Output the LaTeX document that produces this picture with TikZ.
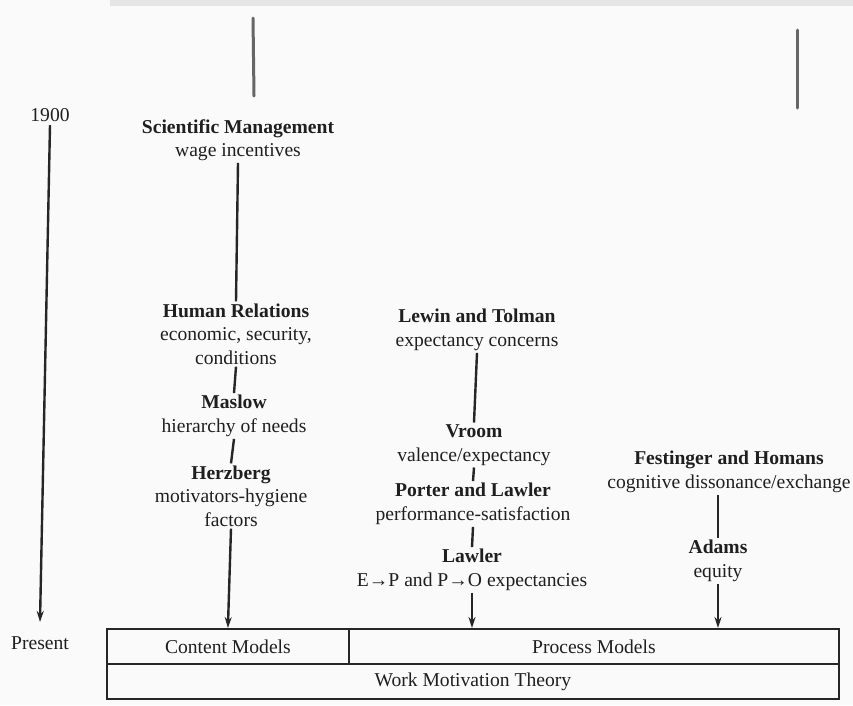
\documentclass[tikz,border=0pt]{standalone}
\usepackage{fontspec}
\setmainfont{Liberation Serif}
\usetikzlibrary{arrows.meta}
\begin{document}
\begin{tikzpicture}[x=1pt,y=-1pt,
  every node/.style={font=\fontsize{19.6}{23.5}\selectfont, text=black!88},
  entry/.style={align=center, inner sep=2pt},
  link/.style={line width=2.4pt, draw=black!85},
  feed/.style={link, -{Stealth[length=11pt,width=7pt]}},
  cell/.style={draw=black!85, line width=1.8pt, minimum height=35pt, inner sep=0pt, anchor=north west},
  scanmark/.style={line width=3pt, draw=black!60, line cap=round}
]
% page
\fill[black!2] (0,0) rectangle (853,705);
\useasboundingbox (0,0) rectangle (853,705);
\fill[black!10] (110,0) rectangle (853,6);
\draw[scanmark] (253,18) -- (254,96);
\draw[scanmark] (797,30) -- (797,108);

% time axis
\node (start) at (50,115) {1900};
\node (now) at (40,643) {Present};
\coordinate (nowtip) at (40,622);
\draw[feed] (start.south) -- (nowtip);

% content theories
\node[entry] (sm) at (238,140) {\textbf{Scientific Management}\\wage incentives};
\node[entry] (hr) at (236,334) {\textbf{Human Relations}\\economic, security,\\conditions};
\node[entry] (maslow) at (234,416) {\textbf{Maslow}\\hierarchy of needs};
\node[entry] (herz) at (231,496) {\textbf{Herzberg}\\motivators-hygiene\\factors};

% process theories
\node[entry] (lewin) at (477,330) {\textbf{Lewin and Tolman}\\expectancy concerns};
\node[entry] (vroom) at (474,445) {\textbf{Vroom}\\valence/expectancy};
\node[entry] (porter) at (473,504) {\textbf{Porter and Lawler}\\performance-satisfaction};
\node[entry] (lawler) at (472,570) {\textbf{Lawler}\\E→P and P→O expectancies};

\node[entry] (fest) at (729,472) {\textbf{Festinger and Homans}\\cognitive dissonance/exchange};
\node[entry] (adams) at (718,561) {\textbf{Adams}\\equity};

% model table
\node[cell, minimum width=242pt] (content) at (106,628) {Content Models};
\node[cell, minimum width=490pt] (process) at (348,628) {Process Models};
\node[cell, minimum width=732pt] (wmt) at (106,663) {Work Motivation Theory};

% connectors
\draw[link] (sm.south) -- (hr.north);
\draw[link] (hr.south) -- (maslow.north);
\draw[link] (maslow.south) -- (herz.north);
\draw[feed] (herz.south) -- (content.north);

\draw[link] (lewin.south) -- (vroom.north);
\draw[link] (vroom.south) -- (porter.north);
\draw[link] (porter.south) -- (lawler.north);
\draw[feed] (lawler.south) -- (lawler.south |- process.north);

\draw[link] (adams.north |- fest.south) -- (adams.north);
\draw[feed] (adams.south) -- (adams.south |- process.north);
\end{tikzpicture}
\end{document}
